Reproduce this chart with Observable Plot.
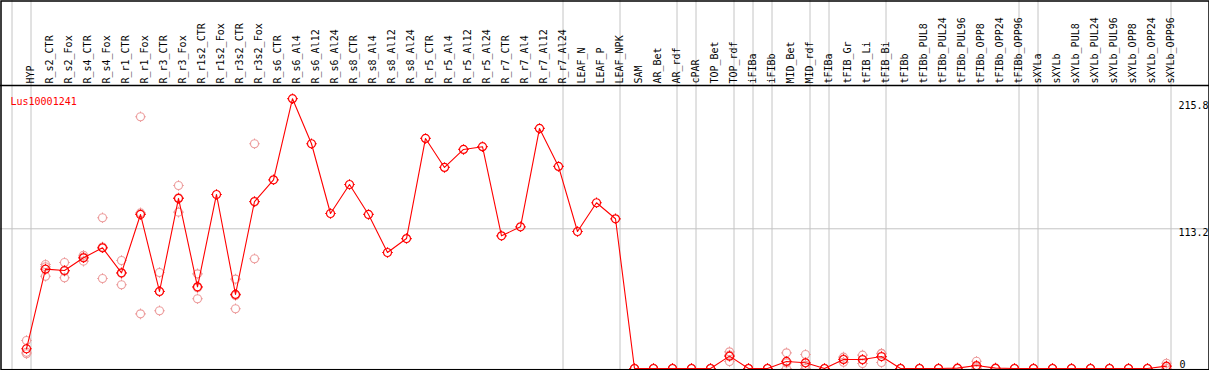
<!DOCTYPE html>
<html>
<head>
<meta charset="utf-8">
<script src="https://cdn.jsdelivr.net/npm/d3@7"></script>
<script src="https://cdn.jsdelivr.net/npm/@observablehq/plot@0.6"></script>
<style>
  html, body { margin: 0; padding: 0; background: white; }
  #chart svg { display: block; }
</style>
</head>
<body>
<div id="chart"></div>
<script>
const geneName = "Lus10001241";

const categories = [
  "HYP","R_s2_CTR","R_s2_Fox","R_s4_CTR","R_s4_Fox","R_r1_CTR","R_r1_Fox","R_r3_CTR","R_r3_Fox",
  "R_r1s2_CTR","R_r1s2_Fox","R_r3s2_CTR","R_r3s2_Fox","R_s6_CTR","R_s6_Al4","R_s6_Al12","R_s6_Al24",
  "R_s8_CTR","R_s8_Al4","R_s8_Al12","R_s8_Al24","R_r5_CTR","R_r5_Al4","R_r5_Al12","R_r5_Al24",
  "R_r7_CTR","R_r7_Al4","R_r7_Al12","R_r7_Al24","LEAF_N","LEAF_P","LEAF_NPK","SAM","AR_Bet","AR_rdf",
  "cPAR","TOP_Bet","TOP_rdf","iFIBa","iFIBb","MID_Bet","MID_rdf","tFIBa","tFIB_Gr","tFIB_Li","tFIB_Bi",
  "tFIBb","tFIBb_PUL8","tFIBb_PUL24","tFIBb_PUL96","tFIBb_OPP8","tFIBb_OPP24","tFIBb_OPP96",
  "sXYLa","sXYLb","sXYLb_PUL8","sXYLb_PUL24","sXYLb_PUL96","sXYLb_OPP8","sXYLb_OPP24","sXYLb_OPP96"
];

const means = [
  16.0, 80.5, 79.4, 89.7, 97.8, 77.5, 124.8, 62.4, 137.8,
  66.2, 141.0, 60.0, 135.3, 152.9, 218.6, 182.1, 125.6,
  149.1, 124.8, 94.0, 105.3, 186.4, 162.9, 177.5, 179.7,
  107.5, 114.8, 194.5, 163.7, 111.0, 134.3, 121.3, 0, 0, 0,
  0, 0, 10.0, 0, 0, 5.7, 4.6, 0, 7.3, 7.3, 9.7,
  0, 0, 0, 0.3, 2.4, 0.3, 0,
  0, 0, 0, 0, 0, 0, 0, 1.9
];

const rep1 = [
  22.7, 84.3, 85.9, 91.8, 122.1, 87.5, 204.0, 77.8, 148.3,
  76.7, null, 72.4, 182.1, null, null, null, null,
  null, null, null, null, null, null, null, null,
  null, null, null, null, null, null, null, 0, 0, 0,
  0, 0, 13.5, 0, 0, 12.7, 11.3, 0, 9.2, 10.8, 12.3,
  0, 0, 0, 0, 5.9, 0, 0,
  0, 0, 0, 0, 0, 0, 0, 4.3
];
const rep2 = [
  13.2, 82.4, 78.8, 90.3, 98.4, 77.2, 126.1, 62.6, 138.4,
  65.4, null, 59.2, 134.9, null, null, null, null,
  null, null, null, null, null, null, null, null,
  null, null, null, null, null, null, null, 0, 0, 0,
  0, 0, 10.8, 0, 0, 4.4, 2.5, 0, 7.6, 7.0, 11.9,
  0, 0, 0, 0, 1.3, 0, 0,
  0, 0, 0, 0, 0, 0, 0, 1.4
];
const rep3 = [
  11.9, 74.8, 73.5, 87.0, 72.9, 67.8, 44.3, 46.8, 126.7,
  56.5, null, 48.4, 88.9, null, null, null, null,
  null, null, null, null, null, null, null, null,
  null, null, null, null, null, null, null, 0, 0, 0,
  0, 0, 5.7, 0, 0, 0, 0, 0, 5.1, 4.1, 4.9,
  0, 0, 0, 0, 0, 0, 0,
  0, 0, 0, 0, 0, 0, 0, 0
];

const separatorsAfter = ["HYP","R_r7_Al24","LEAF_NPK","AR_rdf","cPAR","TOP_rdf","iFIBa","iFIBb",
  "MID_rdf","tFIBa","tFIB_Bi","tFIBb_OPP96","sXYLa","sXYLb_OPP96"];

const tickValues = [215.8, 113.2, 0];
const tickLabels = ["215.8", "113.2", "0"];
const gridValues = [113.2];

const Y_MAX = 229.3;

// build tables from the arrays
const table = categories.map((c, i) => ({i, c, mean: means[i]}));
const reps = [];
[rep1, rep2, rep3].forEach(arr => arr.forEach((v, i) => { if (v != null) reps.push({i, v}); }));
const seps = [-1, ...separatorsAfter.map(s => categories.indexOf(s))];
const ticks = tickValues.map((v, k) => ({v, label: tickLabels[k]}));

const sun = {
  draw(ctx, size) {
    const r = Math.sqrt(size / Math.PI), s = 1.3;
    ctx.moveTo(r, 0); ctx.arc(0, 0, r, 0, 2 * Math.PI);
    ctx.moveTo(0, -r); ctx.lineTo(0, -r - s);
    ctx.moveTo(0, r); ctx.lineTo(0, r + s);
    ctx.moveTo(-r, 0); ctx.lineTo(-r - s, 0);
    ctx.moveTo(r, 0); ctx.lineTo(r + s, 0);
  }
};

const chart = Plot.plot({
  width: 1209,
  height: 370,
  marginLeft: 26,
  marginRight: 43,
  marginTop: 85,
  marginBottom: 2,
  x: {type: "linear", domain: [0, categories.length - 1], axis: null},
  y: {domain: [0, Y_MAX], axis: null},
  style: {fontFamily: "'DejaVu Sans Mono', monospace", background: "white", overflow: "visible"},
  marks: [
    Plot.ruleX(seps, {x: d => d + 0.5, dx: -5, stroke: "#c4c4c4", strokeWidth: 1, insetTop: -85, insetBottom: -2}),
    Plot.ruleY(gridValues, {y: d => d, stroke: "#c4c4c4", strokeWidth: 1, insetLeft: -26, insetRight: -43}),
    Plot.ruleY([Y_MAX], {y: d => d, stroke: "black", strokeWidth: 1.5, insetLeft: -26, insetRight: -43}),
    Plot.dot(reps, {x: "i", y: "v", r: 4, symbol: sun, stroke: "#ec9a9a", strokeWidth: 1.1, fill: "none"}),
    Plot.line(table, {x: "i", y: "mean", stroke: "#ff0000", strokeWidth: 1.1}),
    Plot.dot(table, {x: "i", y: "mean", r: 4, symbol: sun, stroke: "#ff0000", strokeWidth: 1.2, fill: "none"}),
    Plot.text(table, {x: "i", text: "c", frameAnchor: "top", rotate: -90, textAnchor: "start", dy: -2, fontSize: 10, fill: "black"}),
    Plot.text(ticks.filter(d => d.v > 0), {y: "v", text: "label", frameAnchor: "right", dx: 12, textAnchor: "start", lineAnchor: "top", fontSize: 10, fill: "black"}),
    Plot.text(ticks.filter(d => d.v === 0), {y: "v", text: "label", frameAnchor: "right", dx: 13, textAnchor: "start", lineAnchor: "bottom", dy: -1, fontSize: 10, fill: "black"}),
    Plot.text([geneName], {text: d => d, frameAnchor: "top-left", dx: -16, dy: 12, textAnchor: "start", fontSize: 10, fill: "#ff0000"}),
    Plot.frame({stroke: "black", strokeWidth: 1.5, insetLeft: -25.5, insetRight: -42.5, insetTop: -84.5, insetBottom: -1.2})
  ]
});
document.getElementById("chart").appendChild(chart);
</script>
</body>
</html>
